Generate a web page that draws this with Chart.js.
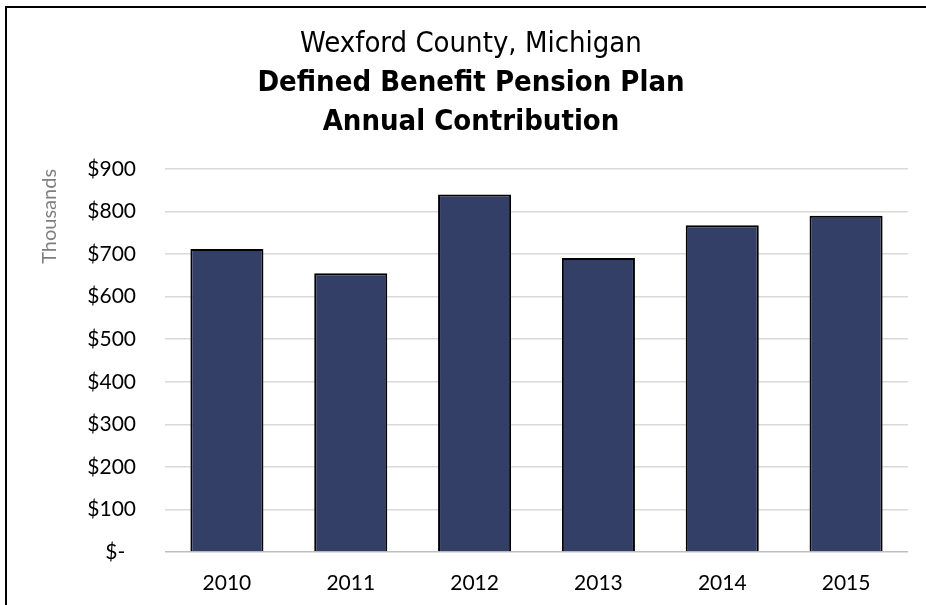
<!DOCTYPE html>
<html>
<head>
<meta charset="utf-8">
<script src="https://cdn.jsdelivr.net/npm/chart.js@4/dist/chart.umd.min.js"></script>
<style>
  html, body { margin: 0; padding: 0; background: #ffffff; }
  #wrap { width: 926px; height: 605px; position: relative; }
</style>
</head>
<body>
<div id="wrap"><canvas id="c" width="926" height="605"></canvas></div>
<script>
const categories = ["2010", "2011", "2012", "2013", "2014", "2015"];
const contributions = [712, 655, 840, 691, 768, 790]; // thousands of dollars
const yTicks = [0, 100, 200, 300, 400, 500, 600, 700, 800, 900];
const titleLine = "Wexford County, Michigan";
const subtitleLines = ["Defined Benefit Pension Plan", "Annual Contribution"];
const yAxisTitle = "Thousands";

const frame = {
  id: 'frame',
  afterDraw(chart) {
    const ctx = chart.ctx;
    ctx.save();
    ctx.strokeStyle = '#000000';
    ctx.lineWidth = 2;
    ctx.beginPath();
    ctx.moveTo(6, 605);
    ctx.lineTo(6, 7);
    ctx.lineTo(926, 7);
    ctx.stroke();
    ctx.restore();
  }
};

new Chart(document.getElementById('c'), {
  type: 'bar',
  data: {
    labels: categories,
    datasets: [{
      data: contributions,
      backgroundColor: '#333F66',
      borderColor: '#000000',
      borderWidth: 2,
      barPercentage: 0.59,
      categoryPercentage: 1.0
    }]
  },
  options: {
    responsive: false,
    animation: false,
    devicePixelRatio: 1,
    layout: { padding: { left: 34, right: 18, top: 0, bottom: 0 } },
    plugins: {
      legend: { display: false },
      tooltip: { enabled: false },
      title: {
        display: true,
        text: titleLine,
        color: '#000000',
        font: { family: 'DejaVu Sans Condensed', size: 29, weight: 'normal', lineHeight: 1.35 },
        padding: { top: 25, bottom: 0 }
      },
      subtitle: {
        display: true,
        text: subtitleLines,
        color: '#000000',
        font: { family: 'DejaVu Sans Condensed', size: 29, weight: 'bold', lineHeight: 1.35 },
        padding: { top: 0, bottom: 26.5 }
      }
    },
    scales: {
      x: {
        grid: { display: false, drawTicks: false },
        border: { display: false },
        ticks: { color: '#000000', font: { family: 'Lato', size: 21 }, padding: 19 },
        afterFit(scale) { scale.height = 53; }
      },
      y: {
        min: 0,
        max: 900,
        afterBuildTicks(scale) { scale.ticks = yTicks.map(v => ({ value: v })); },
        grid: {
          color: ctx => ctx.tick && ctx.tick.value === 0 ? '#bfbfbf' : '#d9d9d9',
          lineWidth: 1.5,
          drawTicks: false
        },
        border: { display: false },
        ticks: {
          color: '#000000',
          font: { family: 'Lato', size: 21 },
          padding: 29,
          callback: v => v === 0 ? '$-  ' : '$' + v
        },
        title: {
          display: true,
          text: yAxisTitle,
          align: 'end',
          color: '#7f7f7f',
          font: { family: 'Lato', size: 20 },
          padding: { top: 4, bottom: 0 }
        },
        afterFit(scale) { scale.width = 131; }
      }
    }
  },
  plugins: [frame]
});
</script>
</body>
</html>
